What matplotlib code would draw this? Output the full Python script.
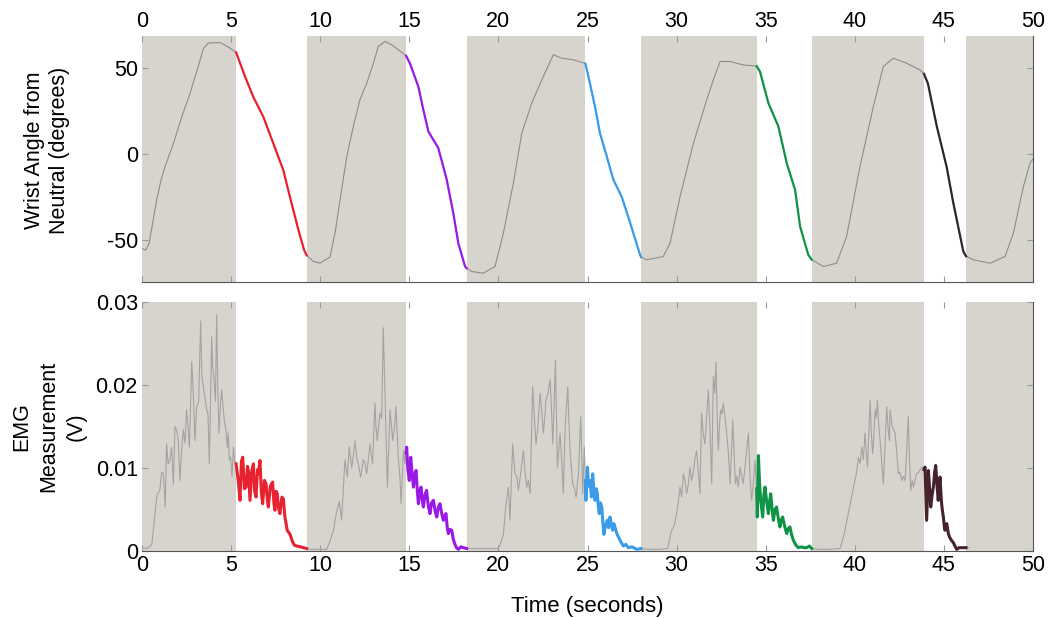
import numpy as np
import matplotlib
matplotlib.use('Agg')
import matplotlib.pyplot as plt

plt.rcParams['font.family'] = ['Liberation Sans', 'DejaVu Sans']
plt.rcParams['axes.unicode_minus'] = False

# rest periods (grey bands) and the movement colours in between
shade_start = [0, 9.24, 18.22, 28.0, 37.58, 46.24]
shade_end = [5.28, 14.82, 24.88, 34.49, 43.88, 50]
move_colors = ['#e8222e', '#9b19e6', '#3b9be8', '#0f9445', '#2a2a2a']
emg_colors = ['#e8222e', '#9b19e6', '#3b9be8', '#0f9445', '#45222c']

# wrist angle (degrees)
angle_t = [0, 0.2, 0.4, 0.6, 0.82, 1.05, 1.29, 1.76, 2.23, 2.69, 3.16, 3.44, 3.72, 4.38, 4.94, 5.28,
           5.78, 6.25, 6.81, 7.37, 7.93, 8.3, 8.77, 9.1, 9.24,
           9.61, 9.99, 10.55, 10.85, 11.11, 11.49, 11.86, 12.23, 12.61, 12.98, 13.26, 13.64, 14.01, 14.39, 14.82,
           15.04, 15.51, 15.79, 16.07, 16.63, 17.1, 17.47, 17.75, 18.13, 18.22,
           18.5, 19.15, 19.81, 20.28, 20.84, 21.31, 21.87, 22.52, 23.08, 23.55, 24.2, 24.88,
           25.05, 25.42, 25.7, 26.08, 26.45, 26.92, 27.39, 27.95, 28.0,
           28.32, 29.25, 29.63, 30.19, 30.94, 31.69, 32.06, 32.44, 33.0, 33.74, 34.49,
           34.68, 35.15, 35.71, 36.18, 36.65, 36.93, 37.39, 37.58,
           38.23, 38.98, 39.54, 40.29, 41.04, 41.6, 42.16, 42.91, 43.66, 43.88,
           44.1, 44.6, 45.15, 45.53, 46.09, 46.24,
           46.65, 47.59, 48.43, 48.9, 49.46, 49.83, 50.0]
angle_deg = [-55, -56, -52, -40, -27, -16, -7.5, 6, 21.5, 35, 51, 61, 64.5, 64.7, 61.5, 59,
             45, 33, 21.5, 6, -9.5, -25, -44, -56, -59,
             -62.5, -63.5, -60, -45, -27, -1.5, 16, 31.5, 41, 52.5, 62.5, 65.3, 63.4, 60.5, 57,
             52.5, 39, 25.5, 13, 3.3, -15, -34.5, -52, -65.5, -66.5,
             -68.4, -69.4, -65.5, -46, -17, 12, 29.5, 45, 57.6, 55.6, 54.7, 52.5,
             45, 27.5, 12, -1.5, -15, -25, -40, -58.7, -60,
             -61.6, -59.7, -52, -25, 6, 31.4, 43, 53.7, 53.7, 51.7, 51,
             47.8, 29.5, 16, -5.4, -21, -42.3, -58.7, -61.5,
             -65.5, -63.6, -48, -7.4, 27.5, 50.8, 55.6, 52.7, 48.8, 46.5,
             41, 16, -7.4, -28.7, -56.8, -59.5,
             -61.6, -63.6, -59.7, -46, -19, -5.4, -3]

# EMG (V)
emg_t = [0.0, 0.3, 0.55, 0.73, 0.85, 1.0, 1.1, 1.2, 1.3, 1.38, 1.47, 1.57, 1.66, 1.76, 1.85, 1.95, 2.04, 2.13,
         2.22, 2.32, 2.41, 2.5, 2.58, 2.66, 2.79, 2.88, 2.97, 3.07, 3.18, 3.29, 3.36, 3.44, 3.53, 3.63, 3.7,
         3.78, 3.91, 3.97, 4.04, 4.12, 4.19, 4.25, 4.32, 4.4, 4.47, 4.56, 4.63, 4.71, 4.78, 4.84, 4.9, 4.97,
         5.05, 5.13, 5.2, 5.28,
         5.4, 5.5, 5.58, 5.65, 5.75, 5.84, 5.92, 5.97, 6.06, 6.15, 6.25, 6.32, 6.4, 6.48, 6.53, 6.62, 6.7,
         6.77, 6.87, 6.96, 7.03, 7.09, 7.2, 7.33, 7.4, 7.46, 7.52, 7.59, 7.66, 7.74, 7.85, 7.93, 8.02, 8.15,
         8.31, 8.45, 8.55, 8.68, 8.9, 9.05, 9.24,
         9.5, 10.0, 10.36, 10.55, 10.74, 10.9, 11.07, 11.2, 11.39, 11.52, 11.63, 11.77, 11.86, 11.95, 12.05,
         12.14, 12.27, 12.42, 12.52, 12.61, 12.7, 12.79, 12.94, 13.07, 13.13, 13.2, 13.35, 13.45, 13.54,
         13.64, 13.77, 13.92, 14.0, 14.07, 14.17, 14.25, 14.39, 14.47, 14.54, 14.67, 14.76, 14.82,
         14.85, 14.92, 15.0, 15.08, 15.15, 15.23, 15.3, 15.38, 15.45, 15.51, 15.58, 15.66, 15.72, 15.79,
         15.88, 15.97, 16.06, 16.16, 16.25, 16.35, 16.45, 16.54, 16.62, 16.72, 16.82, 16.91, 17.0, 17.06,
         17.12, 17.19, 17.28, 17.38, 17.47, 17.56, 17.65, 17.75, 17.9, 18.03, 18.22,
         18.6, 19.3, 20.0, 20.14, 20.28, 20.42, 20.56, 20.65, 20.8, 20.93, 21.03, 21.12, 21.26, 21.4, 21.5,
         21.59, 21.68, 21.78, 21.92, 22.02, 22.11, 22.22, 22.34, 22.43, 22.52, 22.6, 22.67, 22.78, 22.9,
         22.98, 23.05, 23.13, 23.2, 23.31, 23.38, 23.46, 23.55, 23.64, 23.74, 23.89, 23.95, 24.02, 24.1,
         24.17, 24.27, 24.36, 24.49, 24.62, 24.73, 24.82, 24.88,
         24.91, 24.99, 25.07, 25.14, 25.22, 25.29, 25.36, 25.42, 25.5, 25.55, 25.6, 25.66, 25.73, 25.8,
         25.86, 25.92, 26.0, 26.11, 26.18, 26.26, 26.34, 26.41, 26.48, 26.54, 26.63, 26.73, 26.85, 27.01,
         27.15, 27.29, 27.5, 27.76, 28.0,
         28.5, 29.0, 29.5, 29.72, 29.86, 30.0, 30.1, 30.19, 30.28, 30.38, 30.47, 30.56, 30.65, 30.75, 30.84,
         30.93, 31.02, 31.12, 31.22, 31.31, 31.4, 31.5, 31.59, 31.68, 31.78, 31.87, 31.97, 32.06, 32.14,
         32.21, 32.28, 32.34, 32.4, 32.47, 32.55, 32.62, 32.72, 32.81, 32.9, 33.0, 33.08, 33.15, 33.22,
         33.3, 33.38, 33.46, 33.56, 33.65, 33.74, 33.88, 34.03, 34.12, 34.21, 34.3, 34.4, 34.49,
         34.53, 34.59, 34.66, 34.72, 34.78, 34.83, 34.9, 34.96, 35.05, 35.15, 35.22, 35.28, 35.36, 35.43,
         35.52, 35.61, 35.7, 35.8, 35.88, 35.95, 36.06, 36.18, 36.27, 36.36, 36.45, 36.55, 36.7, 36.83,
         37.0, 37.15, 37.3, 37.45, 37.58,
         38.0, 38.6, 39.17, 39.3, 39.45, 39.63, 39.82, 39.92, 40.01, 40.1, 40.2, 40.3, 40.39, 40.48, 40.57,
         40.64, 40.71, 40.86, 40.93, 41.0, 41.07, 41.14, 41.2, 41.27, 41.35, 41.42, 41.5, 41.6, 41.7,
         41.79, 41.86, 41.94, 41.98, 42.1, 42.26, 42.35, 42.44, 42.53, 42.63, 42.72, 42.82, 42.91, 43.0,
         43.07, 43.14, 43.22, 43.29, 43.38, 43.47, 43.6, 43.75, 43.88,
         43.94, 44.03, 44.13, 44.2, 44.26, 44.34, 44.41, 44.48, 44.54, 44.61, 44.68, 44.73, 44.78, 44.83,
         44.87, 44.92, 44.97, 45.02, 45.06, 45.11, 45.16, 45.24, 45.31, 45.42, 45.53, 45.62, 45.72, 45.85,
         46.0, 46.24, 46.4]
emg_v = [0.0004, 0.0003, 0.0008, 0.0045, 0.0068, 0.0073, 0.0095, 0.0093, 0.0053, 0.0129, 0.0105, 0.011,
         0.0125, 0.008, 0.015, 0.0145, 0.0133, 0.0085, 0.012, 0.0146, 0.013, 0.017, 0.015, 0.0125, 0.0228,
         0.019, 0.0133, 0.0174, 0.018, 0.0277, 0.021, 0.0198, 0.0185, 0.017, 0.0165, 0.0105, 0.0258, 0.022,
         0.0206, 0.018, 0.0285, 0.02, 0.0142, 0.0175, 0.0194, 0.017, 0.0155, 0.0146, 0.0125, 0.0142, 0.011,
         0.0113, 0.009, 0.0125, 0.0108, 0.0105,
         0.0085, 0.0061, 0.0108, 0.0113, 0.0075, 0.0077, 0.0102, 0.0097, 0.0061, 0.0095, 0.0105, 0.0072,
         0.0065, 0.0098, 0.0093, 0.0109, 0.007, 0.0057, 0.0085, 0.0081, 0.0062, 0.0053, 0.0078, 0.0083,
         0.0058, 0.0049, 0.0072, 0.0069, 0.0052, 0.0045, 0.0065, 0.0063, 0.0041, 0.0025, 0.002, 0.0011,
         0.0007, 0.0006, 0.0005, 0.0004, 0.0003,
         0.0002, 0.0002, 0.0002, 0.0012, 0.0025, 0.0045, 0.006, 0.0037, 0.011, 0.0089, 0.0125, 0.01, 0.0115,
         0.0133, 0.0112, 0.0105, 0.0089, 0.011, 0.0105, 0.0093, 0.011, 0.0129, 0.0105, 0.0178, 0.015, 0.0133,
         0.0166, 0.016, 0.0269, 0.0186, 0.0077, 0.017, 0.015, 0.0133, 0.015, 0.0174, 0.011, 0.009, 0.0057,
         0.0121, 0.0105, 0.0118,
         0.0125, 0.0098, 0.0085, 0.0113, 0.0095, 0.0077, 0.0092, 0.0097, 0.0072, 0.0057, 0.0072, 0.0077,
         0.0062, 0.0053, 0.0068, 0.0073, 0.0055, 0.0045, 0.0058, 0.0061, 0.0048, 0.0041, 0.0052, 0.0057,
         0.0045, 0.0037, 0.0043, 0.0045, 0.003, 0.0021, 0.0026, 0.0025, 0.0014, 0.0008, 0.0004, 0.0002,
         0.0005, 0.0004, 0.0003,
         0.0003, 0.0003, 0.0003, 0.001, 0.002, 0.0055, 0.0077, 0.0037, 0.0129, 0.0093, 0.009, 0.0073, 0.0095,
         0.0121, 0.0095, 0.0077, 0.0085, 0.0069, 0.0198, 0.016, 0.0129, 0.015, 0.019, 0.017, 0.0142, 0.016,
         0.0182, 0.019, 0.0206, 0.017, 0.0129, 0.018, 0.023, 0.0101, 0.012, 0.0142, 0.011, 0.0069, 0.0146,
         0.0198, 0.016, 0.0121, 0.01, 0.0081, 0.0075, 0.0065, 0.0093, 0.0162, 0.0069, 0.0125, 0.0085,
         0.0061, 0.0101, 0.0078, 0.0085, 0.0065, 0.0093, 0.0072, 0.0061, 0.0075, 0.0069, 0.0055, 0.0045,
         0.0058, 0.0053, 0.0035, 0.002, 0.003, 0.0037, 0.0028, 0.0041, 0.0032, 0.0025, 0.0033, 0.0029,
         0.0022, 0.0017, 0.0012, 0.0006, 0.0008, 0.0004, 0.0005, 0.0002, 0.0003,
         0.0002, 0.0002, 0.0003, 0.0025, 0.003, 0.0045, 0.006, 0.0077, 0.0065, 0.0093, 0.0085, 0.0069, 0.008,
         0.0101, 0.0085, 0.0093, 0.011, 0.0121, 0.0095, 0.0069, 0.0166, 0.014, 0.0129, 0.016, 0.0194, 0.015,
         0.0081, 0.021, 0.019, 0.0228, 0.016, 0.0121, 0.015, 0.017, 0.0165, 0.0178, 0.016, 0.0142, 0.012,
         0.0081, 0.012, 0.0158, 0.012, 0.0081, 0.009, 0.0077, 0.0101, 0.009, 0.0081, 0.011, 0.0142, 0.009,
         0.0061, 0.008, 0.0109, 0.0075,
         0.0041, 0.0115, 0.008, 0.0061, 0.005, 0.0041, 0.0068, 0.0077, 0.006, 0.0045, 0.006, 0.0069, 0.005,
         0.0037, 0.005, 0.0053, 0.004, 0.0029, 0.0038, 0.0041, 0.003, 0.0021, 0.0027, 0.0029, 0.002, 0.0013,
         0.0007, 0.0004, 0.0005, 0.0004, 0.0004, 0.0006, 0.0003,
         0.0002, 0.0002, 0.0003, 0.0012, 0.0025, 0.0045, 0.0065, 0.0075, 0.0085, 0.0095, 0.0113, 0.0105,
         0.0125, 0.011, 0.0142, 0.012, 0.0101, 0.0182, 0.014, 0.0117, 0.014, 0.017, 0.016, 0.0182, 0.015,
         0.0133, 0.011, 0.0081, 0.013, 0.0174, 0.015, 0.0133, 0.017, 0.015, 0.0142, 0.012, 0.0093, 0.0095,
         0.0085, 0.009, 0.0085, 0.012, 0.0162, 0.011, 0.0073, 0.0085, 0.0077, 0.0085, 0.0093, 0.0095, 0.0101,
         0.0098,
         0.0101, 0.0037, 0.0097, 0.0075, 0.0053, 0.0068, 0.0077, 0.0095, 0.0103, 0.008, 0.0061, 0.0075,
         0.0089, 0.007, 0.0057, 0.0048, 0.0041, 0.003, 0.0025, 0.003, 0.0033, 0.0022, 0.0017, 0.0013, 0.001,
         0.0006, 0.0002, 0.0004, 0.0004, 0.0004, 0.0004]

xticks = [0, 5, 10, 15, 20, 25, 30, 35, 40, 45, 50]
angle_ticks = [-50, 0, 50]
emg_ticks = [0, 0.01, 0.02, 0.03]
emg_ticklabels = ['0', '0.01', '0.02', '0.03']

angle_t = np.array(angle_t)
angle_deg = np.array(angle_deg)
emg_t = np.array(emg_t)
emg_v = np.array(emg_v)

fig = plt.figure(figsize=(10.48, 6.18), dpi=100)
ax1 = fig.add_axes([0.1355, 0.5437, 0.8502, 0.398])
ax2 = fig.add_axes([0.1355, 0.1084, 0.8502, 0.403])

fs = 15.5
for ax in (ax1, ax2):
    for s, e in zip(shade_start, shade_end):
        ax.axvspan(s, e, color='#d7d4cd', lw=0, zorder=0)
    ax.set_xlim(0, 50)
    ax.set_xticks(xticks)
    ax.spines['left'].set_visible(False)
    ax.spines['top'].set_visible(False)
    ax.spines['bottom'].set_color('#555555')
    ax.spines['right'].set_color('#555555')
    ax.tick_params(direction='in', length=4, width=0.8, color='#999999',
                   labelsize=fs, top=True, right=True, pad=3)

# top: wrist angle
ax1.plot(angle_t, angle_deg, color='#8c8c8c', lw=0.8, zorder=2)
for i, c in enumerate(move_colors):
    m = (angle_t >= shade_end[i]) & (angle_t <= shade_start[i + 1])
    ax1.plot(angle_t[m], angle_deg[m], color=c, lw=1.6, zorder=3)
ax1.set_ylim(-74.5, 68.5)
ax1.set_yticks(angle_ticks)
ax1.tick_params(axis='x', labeltop=True, labelbottom=False)
ax1.set_ylabel('Wrist Angle from\nNeutral (degrees)', fontsize=fs, linespacing=1.25)
ax1.yaxis.set_label_coords(-0.081, 0.535)

# bottom: EMG
ax2.plot(emg_t, emg_v, color='#a3a3a3', lw=0.8, zorder=2)
for i, c in enumerate(emg_colors):
    m = (emg_t >= shade_end[i]) & (emg_t <= shade_start[i + 1])
    ax2.plot(emg_t[m], emg_v[m], color=c, lw=2.2, zorder=3)
ax2.set_ylim(0, 0.03)
ax2.set_yticks(emg_ticks)
ax2.set_yticklabels(emg_ticklabels)
ax2.set_ylabel('EMG\nMeasurement\n(V)', fontsize=fs, linespacing=1.4)
ax2.yaxis.set_label_coords(-0.062, 0.5)
ax2.set_xlabel('Time (seconds)', fontsize=fs + 0.5, labelpad=14)

fig.savefig('out.png', dpi=100)
